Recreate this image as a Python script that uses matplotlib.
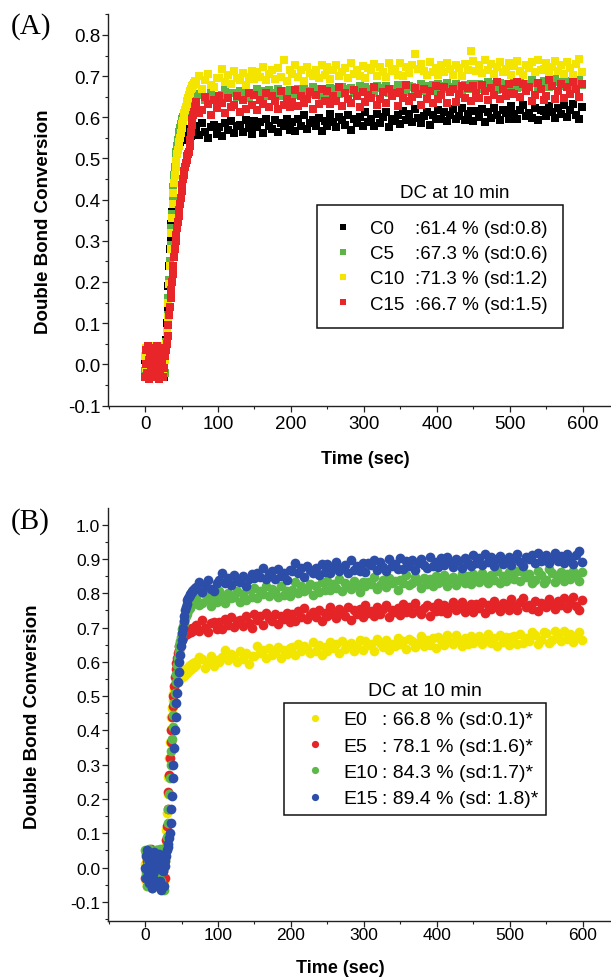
import numpy as np
import matplotlib
matplotlib.use("Agg")
import matplotlib.pyplot as plt
from matplotlib.lines import Line2D
from matplotlib.ticker import MultipleLocator, FormatStrFormatter

plt.rcParams['font.family'] = ['Liberation Sans', 'DejaVu Sans']
plt.rcParams['axes.unicode_minus'] = False

# ---------------- data (conversion values in thousandths) ----------------
time_fast_s = np.arange(0, 70, 1)        # 1 s sampling during irradiation start
time_slow_s = np.arange(70, 599, 4)      # 4 s sampling afterwards
time_s = np.concatenate([time_fast_s, time_slow_s])

# Panel A
c0_dc = [10,-20,30,-5,40,-25,15,0,-30,35,5,-15,25,-10,45,-20,20,-30,10,30,-5,-25,40,0,-15,25,-30,15,
         30,60,100,140,190,240,280,310,340,370,400,430,450,470,480,500,510,520,530,535,
         540,545,550,548,556,545,560,552,566,548,558,570,550,562,572,555,566,575,558,569,578,560,
         573,556,586,565,551,577,582,560,
         577,555,586,569,591,561,578,582,565,594,574,560,
         592,576,588,562,595,580,571,593,564,586,578,597,569,
         589,566,595,578,605,572,586,594,580,599,568,591,
         580,608,588,576,601,593,582,606,570,597,586,602,578,
         614,589,595,580,608,586,600,612,577,597,592,605,
         584,615,593,608,589,620,599,587,604,612,581,606,595,
         619,595,614,590,606,621,597,603,623,593,608,616,
         591,615,602,621,588,613,599,623,605,594,618,610,597,
         628,607,595,619,630,604,611,598,623,593,617,615,
         604,628,613,599,623,609,630,602,617,632,606,595,625]
c5_dc = [-15,25,5,-30,20,40,-10,10,-25,30,-5,15,45,-20,0,35,-30,20,-10,5,40,-25,10,-15,30,-5,25,-20,
         30,55,80,120,160,205,250,290,330,365,400,430,460,480,500,515,530,545,555,565,
         575,583,590,596,600,606,610,616,620,626,630,633,636,640,638,645,642,648,645,652,648,654,
         646,657,655,642,648,659,644,653,
         648,655,666,651,660,658,649,664,653,662,646,657,
         654,669,659,663,652,667,655,660,668,651,664,658,666,
         666,654,670,660,668,664,656,673,659,668,653,665,
         660,672,664,670,656,674,662,668,672,659,665,675,661,
         673,666,669,659,677,671,663,675,660,668,665,678,
         668,674,661,677,673,664,670,681,665,675,667,679,663,
         680,676,668,683,673,670,682,675,666,679,669,681,
         671,678,682,670,675,685,672,680,667,684,674,681,668,
         682,683,671,686,673,680,676,690,684,672,678,689,
         689,673,679,692,685,677,691,680,688,675,682,690,678]
c10_dc = [20,-10,40,-25,5,30,-20,45,0,-30,15,35,-15,25,-5,40,-25,10,30,-10,20,-30,45,5,-20,35,-5,10,
          30,50,80,115,150,195,240,280,320,355,390,415,440,460,480,495,510,520,530,540,
          550,562,575,583,590,600,610,618,625,633,640,648,655,660,665,668,672,675,678,684,680,688,
          683,700,670,691,705,679,674,696,
          696,718,687,704,682,712,695,691,708,679,699,713,
          693,709,697,723,690,705,714,692,721,699,740,688,716,
          705,728,699,716,689,722,708,700,714,695,726,703,
          722,694,714,726,701,709,720,696,732,705,716,700,724,
          695,720,714,729,701,723,709,697,732,712,717,704,
          732,701,723,708,727,755,717,729,712,704,735,710,721,
          704,728,709,733,717,702,726,720,700,730,715,762,
          737,713,726,707,740,715,729,705,723,734,710,718,731,
          704,725,737,713,702,728,721,734,709,739,715,717,
          732,708,723,737,713,727,706,734,719,704,730,741,711]
c15_dc = [-30,35,0,-20,45,10,-35,25,-10,40,-25,15,-5,30,-30,20,45,-15,5,-35,35,-20,25,0,-30,40,-10,20,
          20,35,50,70,95,120,140,160,180,200,220,240,260,280,300,315,330,345,360,375,
          390,405,420,435,450,460,470,480,490,497,505,512,515,530,545,565,582,596,605,612,618,624,
          638,610,617,649,632,605,643,622,
          653,635,610,647,625,630,652,614,642,620,659,631,
          654,619,643,632,660,624,651,640,621,663,630,645,625,
          637,666,627,651,634,644,661,620,654,632,669,640,
          663,633,653,639,673,628,658,644,634,666,651,625,661,
          638,655,648,674,630,645,662,635,670,651,659,627,
          661,647,679,640,650,671,656,630,669,645,664,636,675,
          644,654,673,635,661,668,638,657,677,647,671,640,
          675,658,648,679,665,642,672,655,686,645,669,652,682,
          659,656,687,649,680,664,673,640,654,684,669,643,
          653,691,677,644,663,682,647,673,656,686,668,649,680]

# Panel B
e0_dc = [10,-40,30,-55,45,-10,20,-30,50,0,-60,35,-20,15,40,-45,5,25,-35,50,-15,-50,30,10,-25,45,-40,20,
         60,110,160,215,265,320,365,405,440,465,490,505,520,530,538,545,550,540,556,548,
         560,552,566,555,570,560,575,565,580,568,582,572,588,575,590,580,595,583,598,586,600,590,
         592,614,609,583,597,618,588,605,
         600,614,634,605,622,618,601,631,609,626,595,617,
         617,645,626,634,612,641,619,628,643,610,636,624,640,
         644,621,652,633,647,639,625,658,631,648,619,642,
         633,657,641,652,625,661,637,648,656,631,643,663,635,
         661,648,653,633,668,656,642,664,636,651,645,670,
         651,662,637,668,660,643,655,676,645,664,649,671,640,
         672,664,649,679,659,653,677,662,646,670,651,675,
         654,667,675,651,662,680,656,670,645,678,659,672,648,
         673,675,651,681,656,669,662,688,677,653,665,686,
         684,654,665,691,676,661,689,668,682,658,672,687,663]
e5_dc = [-30,45,-10,20,-50,35,0,-20,55,-40,15,-5,40,-35,25,-15,50,-45,10,30,-25,5,-55,40,20,-10,45,-30,
         40,80,120,170,220,270,320,365,400,440,470,500,530,555,580,598,612,625,635,645,
         655,660,665,668,672,675,678,682,685,680,690,684,692,686,696,688,698,690,700,692,703,695,
         708,691,721,700,686,712,717,695,
         717,695,726,709,731,701,718,722,705,734,714,700,
         739,723,735,709,742,727,718,740,711,733,725,744,716,
         741,718,747,730,757,724,738,746,732,751,720,743,
         733,761,741,729,754,746,735,759,723,750,739,755,731,
         767,742,748,733,761,739,753,765,730,750,745,758,
         737,768,746,761,742,773,752,740,757,765,734,759,748,
         772,748,767,743,759,774,750,756,776,746,761,769,
         745,769,756,775,742,767,753,777,759,748,772,764,751,
         783,762,750,774,785,759,766,753,778,748,772,770,
         760,784,769,755,779,765,786,758,773,788,762,751,781]
e10_dc = [50,-20,40,-55,10,55,-35,25,-10,45,-60,0,30,-45,20,50,-25,5,-50,35,-15,55,-40,15,-5,40,-65,25,
          30,60,90,130,170,215,260,300,340,375,410,445,480,510,540,565,590,610,630,645,
          660,673,685,695,705,713,720,728,735,740,745,750,755,758,762,765,768,770,772,775,776,778,
          788,766,771,797,783,762,792,775,
          807,793,773,802,785,789,806,776,798,781,812,790,
          815,787,806,798,820,791,813,804,789,822,796,808,792,
          809,832,801,820,806,814,828,795,822,805,834,811,
          835,811,827,816,843,807,831,820,812,837,825,805,833,
          820,833,828,848,813,825,839,817,845,830,836,811,
          840,829,854,823,831,848,836,815,846,827,842,820,851,
          829,837,852,822,842,848,824,839,855,831,850,826,
          855,842,834,858,847,829,853,839,864,831,850,837,861,
          844,842,866,836,861,848,855,829,840,864,852,831,
          840,870,859,833,848,863,835,856,842,866,852,837,861]
e15_dc = [0,35,-30,50,-15,20,-45,40,5,-60,25,-20,45,-35,10,30,-50,15,-5,40,-40,20,-65,35,-10,25,-55,5,
          20,35,50,60,70,85,100,130,170,210,260,300,350,400,440,480,510,540,570,600,
          620,645,665,685,700,720,735,750,760,770,780,785,790,795,798,802,805,808,810,812,814,816,
          817,834,804,825,839,813,808,830,
          838,860,829,846,824,854,837,833,850,821,841,855,
          844,860,848,874,841,856,865,843,872,850,858,839,867,
          864,887,858,875,848,881,867,859,873,854,885,862,
          886,858,878,890,865,873,884,860,896,869,880,864,888,
          863,888,882,897,869,891,877,865,900,880,885,872,
          903,872,894,879,898,867,888,900,883,875,906,881,892,
          878,902,883,907,891,876,900,894,874,904,889,881,
          913,889,902,883,916,891,905,881,899,910,886,894,907,
          883,904,916,892,881,907,900,913,888,918,894,896,
          913,889,904,918,894,908,887,915,900,885,911,922,892]

names_a = ["C0", "C5", "C10", "C15"]
stats_a = [":61.4 % (sd:0.8)", ":67.3 % (sd:0.6)", ":71.3 % (sd:1.2)", ":66.7 % (sd:1.5)"]
series_a = [c0_dc, c5_dc, c10_dc, c15_dc]
colors_a = ["#000000", "#5db446", "#f4e500", "#e8262a"]

names_b = ["E0", "E5", "E10", "E15"]
stats_b = [": 66.8 % (sd:0.1)*", ": 78.1 % (sd:1.6)*", ": 84.3 % (sd:1.7)*", ": 89.4 % (sd: 1.8)*"]
series_b = [e0_dc, e5_dc, e10_dc, e15_dc]
colors_b = ["#f2e600", "#e52428", "#5cb848", "#2c4ea8"]

# ---------------- figure ----------------
W, H = 611, 979
fig = plt.figure(figsize=(W / 100, H / 100), dpi=100)

def fx(px):
    return px / W

def fy(py):
    return 1 - py / H

axA = fig.add_axes([fx(108), fy(406.5), fx(611) - fx(108), fy(15) - fy(406.5)])
axB = fig.add_axes([fx(108), fy(921.7), fx(611) - fx(108), fy(509.3) - fy(921.7)])

def style_axis(ax, ylim, labelsize, xpad):
    ax.set_xlim(-50.7, 638.4)
    ax.set_ylim(*ylim)
    for s in ("top", "right"):
        ax.spines[s].set_visible(False)
    for s in ("left", "bottom"):
        ax.spines[s].set_linewidth(1.0)
        ax.spines[s].set_color("#222222")
    ax.xaxis.set_major_locator(MultipleLocator(100))
    ax.xaxis.set_minor_locator(MultipleLocator(50))
    ax.yaxis.set_major_locator(MultipleLocator(0.1))
    ax.yaxis.set_minor_locator(MultipleLocator(0.05))
    ax.yaxis.set_major_formatter(FormatStrFormatter("%.1f"))
    ax.xaxis.set_major_formatter(FormatStrFormatter("%d"))
    ax.tick_params(which="major", length=4.3, width=0.9, color="#222222", labelsize=labelsize)
    ax.tick_params(which="minor", length=2.4, width=0.8, color="#222222")
    ax.tick_params(axis="y", which="major", pad=1.2)
    ax.tick_params(axis="x", which="major", pad=xpad)
    ax.patch.set_alpha(0)

style_axis(axA, (-0.1, 0.851), 13.5, 2.5)
style_axis(axB, (-0.155, 1.048), 12.5, 0.5)

# Panel A marks (squares)
for vals, col in zip(series_a, colors_a):
    n = min(len(vals), len(time_s))
    axA.plot(time_s[:n], np.asarray(vals[:n]) / 1000.0, linestyle="none", marker="s",
             markersize=6.0, markeredgewidth=0, color=col, clip_on=False)

# Panel B marks (circles)
for vals, col in zip(series_b, colors_b):
    n = min(len(vals), len(time_s))
    axB.plot(time_s[:n], np.asarray(vals[:n]) / 1000.0, linestyle="none", marker="o",
             markersize=7.0, markeredgewidth=0, color=col, clip_on=False)

# Legends (two columns: name | value)
def make_legend(ax, names, stats, colors, marker, ms, fs, anchor_px, bp, hl, htp, cs, ls):
    handles = [Line2D([], [], linestyle="none", marker=marker, markersize=ms,
                      markeredgewidth=0, color=c) for c in colors]
    blanks = [Line2D([], [], linestyle="none", marker=None) for _ in stats]
    leg = ax.legend(handles + blanks, list(names) + list(stats), ncol=2,
                    loc="upper left", bbox_to_anchor=(fx(anchor_px[0]), fy(anchor_px[1])),
                    bbox_transform=fig.transFigure, borderaxespad=0, fontsize=fs,
                    frameon=True, fancybox=False, shadow=False, framealpha=1,
                    edgecolor="#111111", borderpad=bp, handlelength=hl,
                    handletextpad=htp, columnspacing=cs, labelspacing=ls)
    leg.get_frame().set_linewidth(1.1)
    return leg

make_legend(axA, names_a, stats_a, colors_a, "s", 4.4, 13.5, (317, 206),
            bp=0.8, hl=1.17, htp=0.85, cs=-1.44, ls=0.43)
make_legend(axB, names_b, stats_b, colors_b, "o", 5.2, 14, (284, 704),
            bp=0.4, hl=2.39, htp=0.25, cs=-2.41, ls=0.45)

fig.text(fx(455), fy(193), "DC at 10 min", ha="center", va="center", fontsize=13.5)
fig.text(fx(425), fy(692), "DC at 10 min", ha="center", va="center", fontsize=14)

# Axis labels
fig.text(fx(43), fy(222), "Double Bond Conversion", rotation=90, ha="center", va="center",
         fontsize=13.5, fontweight="bold")
fig.text(fx(33), fy(716.5), "Double Bond Conversion", rotation=90, ha="center", va="center",
         fontsize=13.5, fontweight="bold")
fig.text(fx(365), fy(460), "Time (sec)", ha="center", va="center", fontsize=13, fontweight="bold")
fig.text(fx(340), fy(969), "Time (sec)", ha="center", va="center", fontsize=13, fontweight="bold")

# Panel letters
fig.text(fx(11), fy(27), "(A)", ha="left", va="center", fontsize=21, family="Liberation Serif")
fig.text(fx(11), fy(522), "(B)", ha="left", va="center", fontsize=21, family="Liberation Serif")

fig.savefig("out.png", dpi=100)
